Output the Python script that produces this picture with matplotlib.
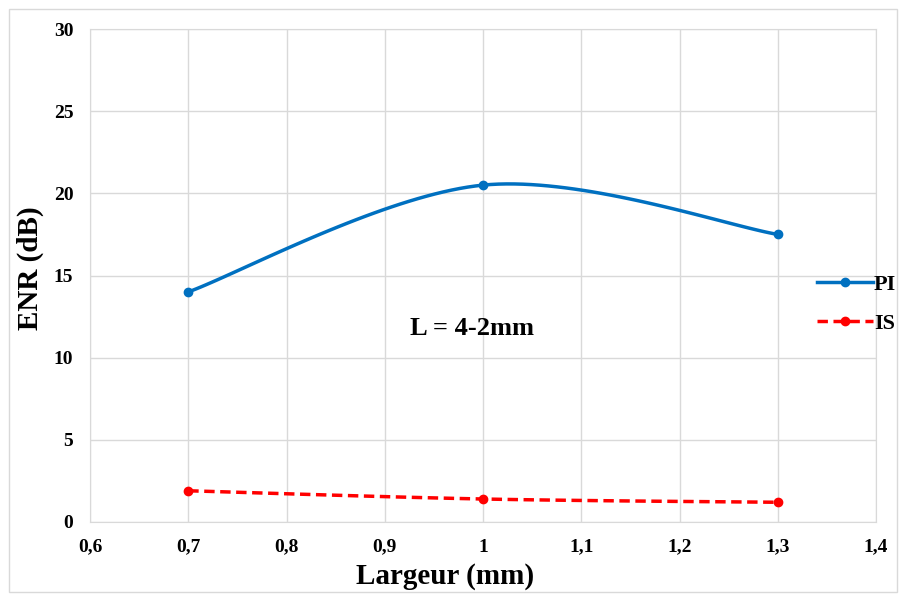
import matplotlib.pyplot as plt
import numpy as np
from matplotlib.patches import Rectangle

# données
largeur = [0.7, 1.0, 1.3]
enr_pi = [14.0, 20.5, 17.5]
enr_is = [1.9, 1.4, 1.2]
x_ticks = [0.6, 0.7, 0.8, 0.9, 1.0, 1.1, 1.2, 1.3, 1.4]
x_tick_labels = ['0,6', '0,7', '0,8', '0,9', '1', '1,1', '1,2', '1,3', '1,4']
y_ticks = [0, 5, 10, 15, 20, 25, 30]


def smooth(x, y, n=40):
    """courbe lissée façon Excel (Bezier type Catmull-Rom)"""
    x = np.asarray(x, float)
    y = np.asarray(y, float)
    px = np.concatenate([[x[0]], x, [x[-1]]])
    py = np.concatenate([[y[0]], y, [y[-1]]])
    xs, ys = [], []
    t = np.linspace(0, 1, n)
    for i in range(1, len(px) - 2):
        p0 = np.array([px[i], py[i]])
        p3 = np.array([px[i + 1], py[i + 1]])
        p1 = p0 + (np.array([px[i + 1], py[i + 1]]) - np.array([px[i - 1], py[i - 1]])) / 6
        p2 = p3 - (np.array([px[i + 2], py[i + 2]]) - np.array([px[i], py[i]])) / 6
        b = ((1 - t) ** 3)[:, None] * p0 + (3 * (1 - t) ** 2 * t)[:, None] * p1 \
            + (3 * (1 - t) * t ** 2)[:, None] * p2 + (t ** 3)[:, None] * p3
        xs.extend(b[:, 0])
        ys.extend(b[:, 1])
    return xs, ys


plt.rcParams['font.family'] = ['Liberation Serif', 'DejaVu Serif']
plt.rcParams['font.weight'] = 'bold'

fig = plt.figure(figsize=(9.06, 5.95), dpi=100)
ax = fig.add_axes([90 / 906, 73 / 595, 786 / 906, 493 / 595])

# cadre extérieur
fig.patches.append(Rectangle((9 / 906, 3 / 595), 888 / 906, 583 / 595, transform=fig.transFigure,
                             fill=False, edgecolor='#d9d9d9', linewidth=1))

blue = '#0070c0'
red = '#ff0000'
dash = (0, (3, 1.6))

sx, sy = smooth(largeur, enr_pi)
ax.plot(sx, sy, color=blue, linewidth=2.5, solid_capstyle='round')
ax.plot(largeur, enr_pi, 'o', color=blue, markersize=6)
sx, sy = smooth(largeur, enr_is)
ax.plot(sx, sy, color=red, linewidth=2.5, linestyle=dash)
ax.plot(largeur, enr_is, 'o', color=red, markersize=6)

# légende
ax.plot([], [], color=blue, linewidth=2.5, marker='o', markersize=6, label='PI')
ax.plot([], [], color=red, linewidth=2.5, linestyle=dash, marker='o', markersize=6, label='IS')
handles, labels = ax.get_legend_handles_labels()
ax.legend(handles, labels, loc='center left', bbox_to_anchor=(806 / 906, 291 / 595),
          bbox_transform=fig.transFigure, frameon=False,
          prop={'size': 16, 'weight': 'bold'}, handlelength=2.5, handletextpad=0.05,
          labelspacing=0.85, borderpad=0)

ax.set_xlim(0.6, 1.4)
ax.set_ylim(0, 30)
ax.set_xticks(x_ticks)
ax.set_xticklabels(x_tick_labels)
ax.set_yticks(y_ticks)
ax.tick_params(length=0, labelsize=14)
ax.tick_params(axis='x', pad=12)
ax.tick_params(axis='y', pad=12)
for lab in ax.get_xticklabels() + ax.get_yticklabels():
    lab.set_fontweight('bold')
ax.grid(True, color='#d9d9d9', linewidth=1)
for s in ax.spines.values():
    s.set_color('#d9d9d9')

ax.set_xlabel('Largeur (mm)', fontsize=21, fontweight='bold')
ax.set_ylabel('ENR (dB)', fontsize=21, fontweight='bold')
ax.xaxis.set_label_coords((445 - 90) / 786, (522 - 577) / 493)
ax.yaxis.set_label_coords((30 - 90) / 786, (522 - 268) / 493)
ax.xaxis.label.set_va('center')
ax.yaxis.label.set_va('center')
ax.text(0.926, 11.8, 'L = 4-2mm', fontsize=19, fontweight='bold', va='center')

fig.savefig('out.png', dpi=100)
